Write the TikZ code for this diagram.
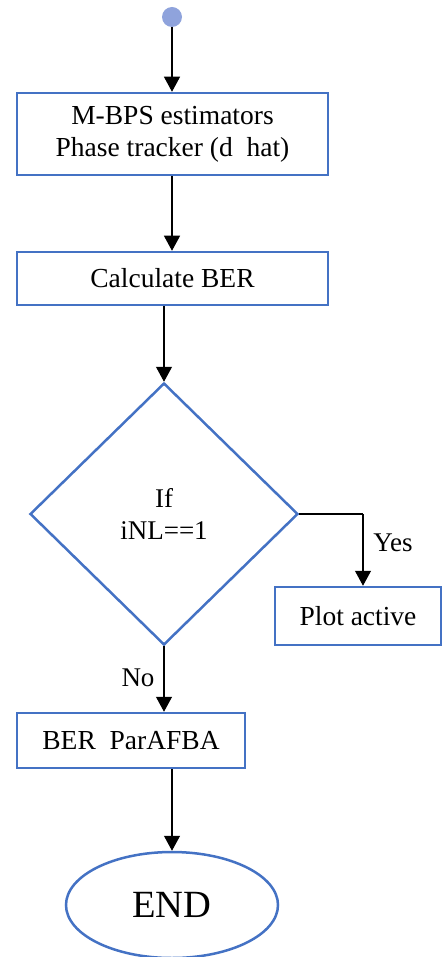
\documentclass[tikz,border=0pt]{standalone}
\usepackage{fontspec}
\setmainfont{Liberation Serif}
\usetikzlibrary{shapes.geometric,arrows.meta}
\definecolor{boxblue}{RGB}{68,114,196}
\definecolor{dotblue}{RGB}{143,163,220}
\tikzset{
  x=1pt,y=1pt,
  stepbox/.style={draw=boxblue,line width=2.5pt,fill=white,rectangle,inner sep=0pt,align=center,font=\fontsize{27.5}{32}\selectfont},
  decision/.style={draw=boxblue,line width=2.5pt,diamond,inner sep=0pt,align=center,font=\fontsize{27}{32}\selectfont},
  endbox/.style={draw=boxblue,line width=2.5pt,ellipse,inner sep=0pt,font=\fontsize{38.5}{42}\selectfont},
  conn/.style={draw=black,line width=1.2pt,-{Triangle[width=16pt,length=15pt]}},
  plain/.style={draw=black,line width=1.2pt},
  lbl/.style={font=\fontsize{27}{32}\selectfont}
}
\begin{document}
\begin{tikzpicture}
\useasboundingbox (0,0) rectangle (443,-957);
\node[circle,fill=dotblue,minimum size=20pt,inner sep=0pt] (s) at (172,-17) {};
\node[stepbox,minimum width=311pt,minimum height=82pt] (b1) at (172.5,-134) {M-BPS estimators\\Phase tracker (d\ \ hat)};
\node[stepbox,minimum width=311pt,minimum height=53pt] (b2) at (172.5,-278.5) {Calculate BER};
\node[decision,minimum width=268pt,minimum height=262pt] (d) at (164,-514) {If\\iNL==1};
\node[stepbox,minimum width=166pt,minimum height=58pt] (p) at (358,-616) {Plot active};
\node[stepbox,minimum width=228pt,minimum height=55pt] (b3) at (131,-740.5) {BER\ \ ParAFBA};
\node[endbox,minimum width=212pt,minimum height=106pt] (e) at (172,-905) {END};
\coordinate (yk) at (363,-514);
\draw[conn] (s) -- (b1.north -| s);
\draw[conn] (b1.south -| s) -- (b2.north -| s);
\draw[conn] (b2.south -| d.north) -- (d.north);
\draw[plain] (d.east) -- (yk);
\draw[conn] (yk) -- (yk |- p.north);
\draw[conn] (d.south) -- (d.south |- b3.north);
\draw[conn] (b3.south -| e.north) -- (e.north);
\node[lbl] (yes) at (393,-543) {Yes};
\node[lbl] (no) at (138,-678) {No};
\end{tikzpicture}
\end{document}
